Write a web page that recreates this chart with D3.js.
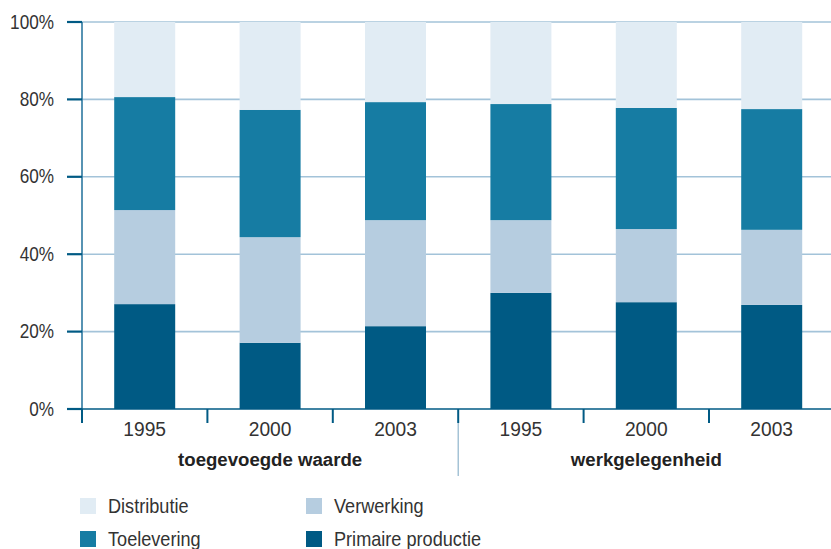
<!DOCTYPE html>
<html><head><meta charset="utf-8">
<script src="https://cdn.jsdelivr.net/npm/d3@7"></script>
<style>
body{margin:0;background:#fff;}
text{font-family:"Liberation Sans Narrow","Arial Narrow","Liberation Sans",sans-serif;}
</style></head><body>
<svg id="c" width="831" height="549"></svg>
<script>
const categories = ["1995","2000","2003","1995","2000","2003"];
const groups = ["toegevoegde waarde","werkgelegenheid"];
const seriesNames = ["Primaire productie","Verwerking","Toelevering","Distributie"];
const primaire   = [27.1, 17.1, 21.4, 30.0, 27.6, 26.9];
const verwerking = [24.3, 27.3, 27.4, 18.8, 18.9, 19.4];
const toelevering= [29.2, 32.9, 30.5, 30.0, 31.3, 31.2];
const distributie= [19.4, 22.7, 20.7, 21.2, 22.2, 22.5];
const yTicks = [0,20,40,60,80,100];
const colors = ["#005a84","#b6cde0","#167ca3","#e1ecf4"];

const svg = d3.select("#c");
const x0 = 82, yBase = 409, yTop = 22;
const x = d3.scaleBand().domain(d3.range(categories.length)).range([x0, x0 + 6*125.4]).paddingInner(0.5136).paddingOuter(0.2568);
const y = d3.scaleLinear().domain([0,100]).range([yBase, yTop]);

// gridlines
svg.append("g").selectAll("line").data(yTicks.filter(d=>d>0)).join("line")
  .attr("x1", x0).attr("x2", 831).attr("y1", d=>y(d)).attr("y2", d=>y(d))
  .attr("stroke", "#a3c3d9").attr("stroke-width", 1.6);

// stacked bars
const rows = categories.map((c,i)=>({i, "Primaire productie":primaire[i], "Verwerking":verwerking[i], "Toelevering":toelevering[i], "Distributie":distributie[i]}));
const stack = d3.stack().keys(seriesNames)(rows);
svg.append("g").selectAll("g").data(stack).join("g").attr("fill",(d,k)=>colors[k])
  .selectAll("rect").data(d=>d).join("rect")
  .attr("x", d=>x(d.data.i)).attr("width", x.bandwidth())
  .attr("y", d=>y(Math.min(100,d[1]))).attr("height", d=>y(d[0])-y(Math.min(100,d[1])));

// y axis
const yAxis = svg.append("g");
yAxis.append("line").attr("x1",x0).attr("x2",x0).attr("y1",yTop).attr("y2",yBase+14).attr("stroke","#2d78a0").attr("stroke-width",1.6);
yAxis.selectAll("line.t").data(yTicks).join("line").attr("class","t")
  .attr("x1",67).attr("x2",x0).attr("y1",d=>y(d)).attr("y2",d=>y(d))
  .attr("stroke","#005a84").attr("stroke-width",2.2);
yAxis.selectAll("text").data(yTicks).join("text")
  .attr("transform",d=>`translate(54,${y(d)+6.5}) scale(0.88,1)`).attr("text-anchor","end")
  .attr("font-size",19.5).attr("fill","#333").text(d=>d+"%");

// x axis
const xAxis = svg.append("g");
xAxis.append("line").attr("x1",x0).attr("x2",831).attr("y1",yBase).attr("y2",yBase).attr("stroke","#005a84").attr("stroke-width",1.6);
const bounds = d3.range(categories.length).map(i=>x(i) - x.step()*x.paddingInner()/2 - (i===0 ? x.step()*(x.paddingOuter()-x.paddingInner()/2) : 0));
xAxis.selectAll("line.t").data(bounds).join("line").attr("class","t")
  .attr("x1",d=>d).attr("x2",d=>d).attr("y1",yBase).attr("y2",yBase+14)
  .attr("stroke","#005a84").attr("stroke-width",2);
// group divider
const divX = bounds[3];
xAxis.append("line").attr("x1",divX).attr("x2",divX).attr("y1",yBase+14).attr("y2",476).attr("stroke","#8fb4cc").attr("stroke-width",1.2);
xAxis.selectAll("text.c").data(categories).join("text").attr("class","c")
  .attr("transform",(d,i)=>`translate(${x(i)+x.bandwidth()/2},436) scale(0.96,1)`).attr("text-anchor","middle")
  .attr("font-size",20).attr("fill","#333").text(d=>d);
xAxis.selectAll("text.g").data(groups).join("text").attr("class","g")
  .attr("transform",(d,g)=>`translate(${(x(g*3)+x(g*3+2)+x.bandwidth())/2},466) scale(0.98,1)`).attr("text-anchor","middle")
  .attr("font-size",19).attr("font-weight","bold").attr("fill","#222").text(d=>d);

// legend
const legendItems = [
  {name:"Distributie", c:colors[3], col:0, row:0},
  {name:"Verwerking", c:colors[1], col:1, row:0},
  {name:"Toelevering", c:colors[2], col:0, row:1},
  {name:"Primaire productie", c:colors[0], col:1, row:1}
];
const lg = svg.append("g").selectAll("g").data(legendItems).join("g")
  .attr("transform", d=>`translate(${80 + d.col*226},${498 + d.row*33})`);
lg.append("rect").attr("width",16).attr("height",16).attr("fill",d=>d.c);
lg.append("text").attr("transform","translate(28,15) scale(0.93,1)").attr("font-size",19.5).attr("fill","#333").text(d=>d.name);
</script></body></html>
